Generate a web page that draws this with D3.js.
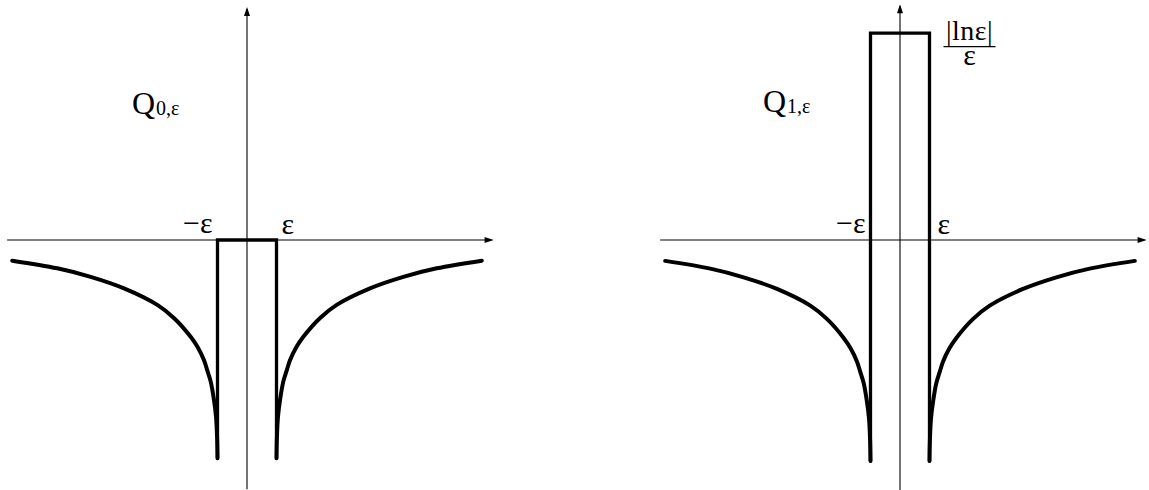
<!DOCTYPE html>
<html>
<head>
<meta charset="utf-8">
<script src="https://cdn.jsdelivr.net/npm/d3@7"></script>
<style>
  html, body { margin: 0; padding: 0; background: #fff; }
  svg { display: block; }
  text { font-family: "Liberation Serif", "Times New Roman", serif; fill: #000; }
</style>
</head>
<body>
<svg id="chart" width="1149" height="490"></svg>
<script>
// Right branch of the regularised potential, x in units of epsilon; mirrored for x < 0
const branchX = [1.00, 1.015, 1.05, 1.12, 1.23, 1.35, 1.46, 1.68, 1.91, 2.47, 3.04, 4.17, 5.30, 6.43, 7.96];
const branchY = [-7.40, -6.67, -5.99, -5.42, -4.80, -4.41, -4.07, -3.62, -3.28, -2.65, -2.20, -1.64, -1.25, -0.96, -0.70];

// Plateau between -epsilon and epsilon for each function
const epsilon = 1;
const plateauValues = [0, 6.93];          // Q_{0,ε}, Q_{1,ε}
const subscripts = ["0,ε", "1,ε"];

// Axis extents (same units)
const xDomain = [-8.13, 8.36];
const yDomain = [-8.45, 7.9];

// Panel layout: origin of the axes in pixels and pixels per unit
const panels = [
  { ox: 247, oy: 240, ux: 29.5, uy: 29.5,  qx: 132, qy: 114 },
  { ox: 900, oy: 240, ux: 29.5, uy: 29.85, qx: 763, qy: 112 }
];

const svg = d3.select("#chart");

panels.forEach((p, i) => {
  const x = d3.scaleLinear()
    .domain(xDomain)
    .range([p.ox + xDomain[0] * p.ux, p.ox + xDomain[1] * p.ux]);
  const y = d3.scaleLinear()
    .domain(yDomain)
    .range([p.oy - yDomain[0] * p.uy, p.oy - yDomain[1] * p.uy]);

  const g = svg.append("g");

  // Axes with arrowheads
  const axisColor = "#000";
  g.append("line")
    .attr("x1", x(xDomain[0])).attr("x2", x(xDomain[1]) - 2)
    .attr("y1", y(0)).attr("y2", y(0))
    .attr("stroke", axisColor).attr("stroke-width", 1.1);
  g.append("line")
    .attr("x1", x(0)).attr("x2", x(0))
    .attr("y1", y(yDomain[0])).attr("y2", y(yDomain[1]) + 2)
    .attr("stroke", axisColor).attr("stroke-width", 1.1);

  const xe = x(xDomain[1]), y0 = y(0);
  g.append("path")
    .attr("d", `M${xe},${y0} L${xe - 9},${y0 - 3} L${xe - 9},${y0 + 3} Z`)
    .attr("fill", axisColor);
  const ye = y(yDomain[1]), x0 = x(0);
  g.append("path")
    .attr("d", `M${x0},${ye} L${x0 - 3},${ye + 9} L${x0 + 3},${ye + 9} Z`)
    .attr("fill", axisColor);

  // Curve branches
  const right = branchX.map((bx, k) => [bx, branchY[k]]);
  const left = right.map(([bx, by]) => [-bx, by]).reverse();

  const line = d3.line()
    .x(d => x(d[0]))
    .y(d => y(d[1]))
    .curve(d3.curveCatmullRom.alpha(0.5));

  [left, right].forEach(pts => {
    g.append("path")
      .attr("d", line(pts))
      .attr("fill", "none")
      .attr("stroke", "#000")
      .attr("stroke-width", 4)
      .attr("stroke-linecap", "round");
  });

  // Plateau: vertical jumps at ±epsilon and the flat top
  const bottom = branchY[0];
  const top = plateauValues[i];
  const rect = [[-epsilon, bottom], [-epsilon, top], [epsilon, top], [epsilon, bottom]];
  g.append("path")
    .attr("d", d3.line().x(d => x(d[0])).y(d => y(d[1]))(rect))
    .attr("fill", "none")
    .attr("stroke", "#000")
    .attr("stroke-width", 3.3)
    .attr("stroke-linejoin", "miter")
    .attr("stroke-linecap", "round");

  // ±epsilon labels
  g.append("text")
    .attr("x", x(-epsilon) - 5).attr("y", y(0) - 7)
    .attr("text-anchor", "end")
    .attr("font-size", 30)
    .text("−ε");
  g.append("text")
    .attr("x", x(epsilon) + (i === 0 ? 5 : 8)).attr("y", y(0) - 6)
    .attr("font-size", 30)
    .text("ε");

  // Function name
  const q = g.append("text")
    .attr("x", p.qx).attr("y", p.qy)
    .attr("font-size", 32);
  q.append("tspan").text("Q");
  q.append("tspan").attr("font-size", 20).attr("dx", 1).attr("dy", 1).text(subscripts[i]);

  // Height of the plateau for the second function: |ln ε| / ε
  if (top > 0) {
    const cx = x(epsilon) + 40;
    const frac = g.append("text")
      .attr("text-anchor", "middle")
      .attr("font-size", 28);
    frac.append("tspan")
      .attr("x", cx).attr("y", y(top) + 7)
      .attr("letter-spacing", 0.5)
      .text("|lnε|");
    frac.append("tspan")
      .attr("x", cx).attr("y", y(top) + 32)
      .attr("font-size", 30)
      .text("ε");
    g.append("line")
      .attr("x1", cx - 26).attr("x2", cx + 26)
      .attr("y1", y(top) + 13.5).attr("y2", y(top) + 13.5)
      .attr("stroke", "#000").attr("stroke-width", 1.2);
  }
});
</script>
</body>
</html>
